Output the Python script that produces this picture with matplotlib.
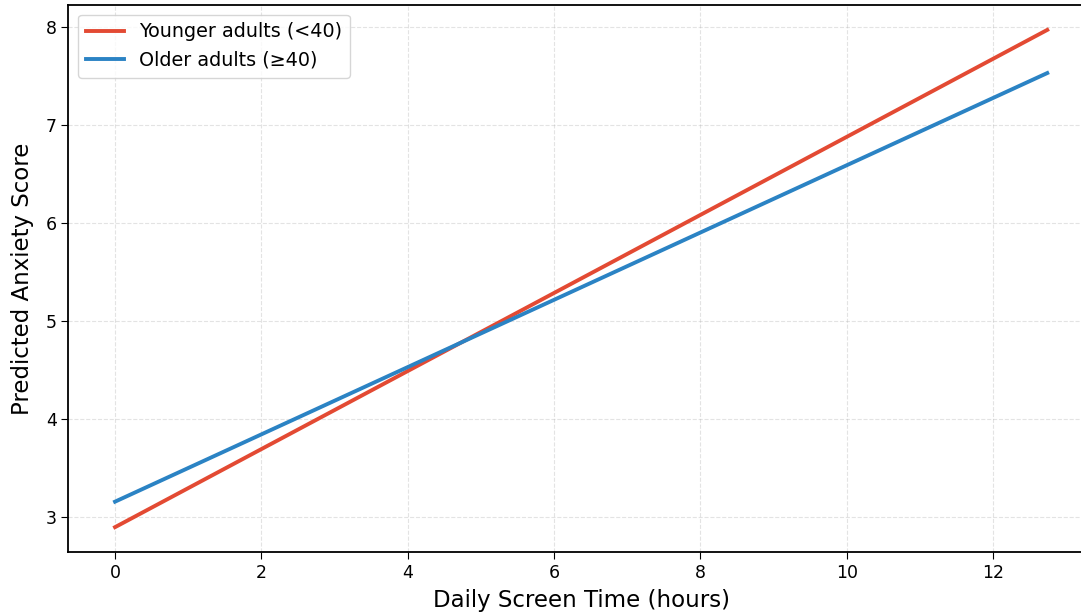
import matplotlib.pyplot as plt

screen_hours = [0.0, 12.74]
younger_scores = [2.90, 7.97]
older_scores = [3.16, 7.53]
labels = ['Younger adults (<40)', 'Older adults (\u226540)']

fig = plt.figure(figsize=(10.81, 6.15), dpi=100)
# right spine falls just outside the canvas, as in the reference crop
ax = fig.add_axes([0.0633, 0.1024, 0.9486, 0.8894])

ax.plot(screen_hours, younger_scores, color='#e34a33', lw=2.8, label=labels[0])
ax.plot(screen_hours, older_scores, color='#2b83c4', lw=2.8, label=labels[1])

ax.grid(True, linestyle='--', alpha=0.35)
ax.set_xlabel('Daily Screen Time (hours)', fontsize=16.5, labelpad=5)
ax.set_ylabel('Predicted Anxiety Score', fontsize=16.5, labelpad=8)
ax.tick_params(labelsize=12.5, length=5)
ax.legend(loc='upper left', fontsize=13.8)
for s in ax.spines.values():
    s.set_linewidth(1.3)

fig.savefig('out.png', dpi=100)
